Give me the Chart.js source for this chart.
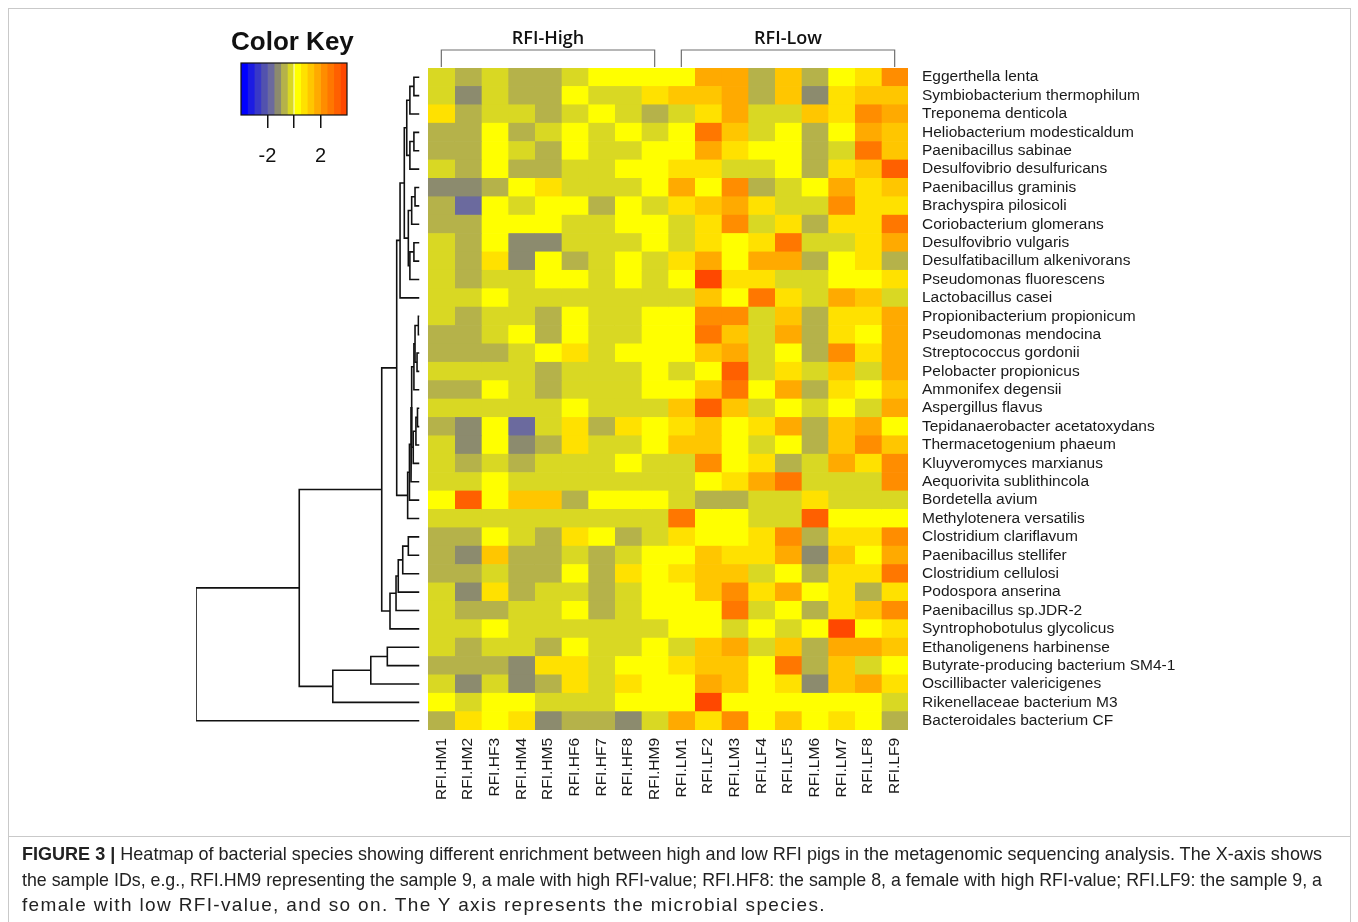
<!DOCTYPE html>
<html>
<head>
<meta charset="utf-8">
<title>Figure 3 heatmap</title>
<script src="https://cdn.jsdelivr.net/npm/chart.js@4.4.1/dist/chart.umd.min.js"></script>
<style>
  html, body { margin: 0; padding: 0; background: #fff; }
  body { width: 1358px; height: 922px; position: relative; overflow: hidden;
         font-family: "Liberation Sans", Arial, sans-serif; }
  canvas.layer { position: absolute; left: 0; top: 0; }
  #frame { position: absolute; left: 8px; top: 8px; width: 1343px; height: 829px;
           border: 1px solid #c9c9c9; box-sizing: border-box; }
  #capbox { position: absolute; left: 8px; top: 836px; width: 1343px; height: 100px;
            border: 1px solid #c9c9c9; box-sizing: border-box; }
  #keyTitle { position: absolute; left: 231px; top: 26px; line-height: 26px;
              font: bold 26px "Liberation Sans", Arial, sans-serif; color: #111; }
  #caption { position: absolute; left: 22px; top: 841px; font-size: 19px; line-height: 25.5px;
             color: #222; font-family: "Liberation Sans", Arial, sans-serif; }
  .ln { white-space: nowrap; transform-origin: 0 0; width: max-content; }
</style>
</head>
<body>
<div id="frame"></div>
<div id="capbox"></div>
<canvas id="dendro" class="layer" width="1358" height="922"></canvas>
<canvas id="heat" class="layer" width="1358" height="922"></canvas>
<canvas id="key" class="layer" width="1358" height="922"></canvas>
<div id="keyTitle">Color Key</div>
<div id="caption">
  <div class="ln" data-w="1300"><b>FIGURE 3 |</b> Heatmap of bacterial species showing different enrichment between high and low RFI pigs in the metagenomic sequencing analysis. The X-axis shows</div>
  <div class="ln" data-w="1300">the sample IDs, e.g., RFI.HM9 representing the sample 9, a male with high RFI-value; RFI.HF8: the sample 8, a female with high RFI-value; RFI.LF9: the sample 9, a</div>
  <div class="ln" data-w="804" data-track="1">female with low RFI-value, and so on. The Y axis represents the microbial species.</div>
</div>
<script>
// columns (samples) and rows (species), top to bottom
const samples = ['RFI.HM1', 'RFI.HM2', 'RFI.HF3', 'RFI.HM4', 'RFI.HM5', 'RFI.HF6', 'RFI.HF7', 'RFI.HF8', 'RFI.HM9',
                 'RFI.LM1', 'RFI.LF2', 'RFI.LM3', 'RFI.LF4', 'RFI.LF5', 'RFI.LM6', 'RFI.LM7', 'RFI.LF8', 'RFI.LF9'];

const species = [
  'Eggerthella lenta', 'Symbiobacterium thermophilum', 'Treponema denticola', 'Heliobacterium modesticaldum',
  'Paenibacillus sabinae', 'Desulfovibrio desulfuricans', 'Paenibacillus graminis', 'Brachyspira pilosicoli',
  'Coriobacterium glomerans', 'Desulfovibrio vulgaris', 'Desulfatibacillum alkenivorans', 'Pseudomonas fluorescens',
  'Lactobacillus casei', 'Propionibacterium propionicum', 'Pseudomonas mendocina', 'Streptococcus gordonii',
  'Pelobacter propionicus', 'Ammonifex degensii', 'Aspergillus flavus', 'Tepidanaerobacter acetatoxydans',
  'Thermacetogenium phaeum', 'Kluyveromyces marxianus', 'Aequorivita sublithincola', 'Bordetella avium',
  'Methylotenera versatilis', 'Clostridium clariflavum', 'Paenibacillus stellifer', 'Clostridium cellulosi',
  'Podospora anserina', 'Paenibacillus sp.JDR-2', 'Syntrophobotulus glycolicus', 'Ethanoligenens harbinense',
  'Butyrate-producing bacterium SM4-1', 'Oscillibacter valericigenes', 'Rikenellaceae bacterium M3', 'Bacteroidales bacterium CF'
];

// scaled abundance (row z-score), one row per species, columns in sample order
const values = [
  [-0.25,-0.75,-0.25,-0.75,-0.75,-0.25,0.25,0.25,0.25,0.25,1.75,1.75,-0.75,1.25,-0.75,0.25,0.75,2.25],
  [-0.25,-1.25,-0.25,-0.75,-0.75,0.25,-0.25,-0.25,0.75,1.25,1.25,1.75,-0.75,1.25,-1.25,0.75,1.25,1.25],
  [0.75,-0.75,-0.25,-0.25,-0.75,-0.25,0.25,-0.25,-0.75,-0.25,0.75,1.75,-0.25,-0.25,1.25,0.75,2.25,1.75],
  [-0.75,-0.75,0.25,-0.75,-0.25,0.25,-0.25,0.25,-0.25,0.25,2.75,1.25,-0.25,0.25,-0.75,0.25,1.75,1.25],
  [-0.75,-0.75,0.25,-0.25,-0.75,0.25,-0.25,-0.25,0.25,0.25,1.75,0.75,0.25,0.25,-0.75,-0.25,2.75,1.25],
  [-0.25,-0.75,0.25,-0.75,-0.75,-0.25,-0.25,0.25,0.25,0.75,0.75,-0.25,-0.25,0.25,-0.75,0.75,1.25,3.25],
  [-1.25,-1.25,-0.75,0.25,0.75,-0.25,-0.25,-0.25,0.25,1.75,0.25,2.25,-0.75,-0.25,0.25,1.75,0.75,1.25],
  [-0.75,-1.75,0.25,-0.25,0.25,0.25,-0.75,0.25,-0.25,0.75,1.25,1.75,0.75,-0.25,-0.25,2.25,0.75,0.75],
  [-0.75,-0.75,0.25,0.25,0.25,-0.25,-0.25,0.25,0.25,-0.25,0.75,2.25,-0.25,0.75,-0.75,0.75,0.75,2.75],
  [-0.25,-0.75,0.25,-1.25,-1.25,-0.25,-0.25,-0.25,0.25,-0.25,0.75,0.25,0.75,2.75,-0.25,-0.25,0.75,1.75],
  [-0.25,-0.75,0.75,-1.25,0.25,-0.75,-0.25,0.25,-0.25,0.75,1.75,0.25,1.75,1.75,-0.75,0.25,0.75,-0.75],
  [-0.25,-0.75,-0.25,-0.25,0.25,0.25,-0.25,0.25,-0.25,0.25,3.75,0.75,0.75,-0.25,-0.25,0.25,0.25,0.75],
  [-0.25,-0.25,0.25,-0.25,-0.25,-0.25,-0.25,-0.25,-0.25,-0.25,1.25,0.25,2.75,0.75,-0.25,1.75,1.25,-0.25],
  [-0.25,-0.75,-0.25,-0.25,-0.75,0.25,-0.25,-0.25,0.25,0.25,2.25,2.25,-0.25,1.25,-0.75,0.75,0.75,1.75],
  [-0.75,-0.75,-0.25,0.25,-0.75,0.25,-0.25,-0.25,0.25,0.25,2.75,1.25,-0.25,1.75,-0.75,0.75,0.25,1.75],
  [-0.75,-0.75,-0.75,-0.25,0.25,0.75,-0.25,0.25,0.25,0.25,1.25,1.75,-0.25,0.25,-0.75,2.25,0.75,1.75],
  [-0.25,-0.25,-0.25,-0.25,-0.75,-0.25,-0.25,-0.25,0.25,-0.25,0.25,3.25,-0.25,0.75,-0.25,1.25,-0.25,1.75],
  [-0.75,-0.75,0.25,-0.25,-0.75,-0.25,-0.25,-0.25,0.25,0.25,1.25,2.75,0.25,1.75,-0.75,0.75,0.25,1.25],
  [-0.25,-0.25,-0.25,-0.25,-0.25,0.25,-0.25,-0.25,-0.25,1.25,3.25,1.25,-0.25,0.25,-0.25,0.25,-0.25,1.75],
  [-0.75,-1.25,0.25,-1.75,-0.25,0.75,-0.75,0.75,0.25,0.75,1.25,0.25,0.75,1.75,-0.75,1.25,1.75,0.25],
  [-0.25,-1.25,0.25,-1.25,-0.75,0.75,-0.25,-0.25,0.25,1.25,1.25,0.25,-0.25,0.25,-0.75,1.25,2.25,1.25],
  [-0.25,-0.75,-0.25,-0.75,-0.25,-0.25,-0.25,0.25,-0.25,-0.25,2.25,0.25,0.75,-0.75,-0.25,1.75,0.75,2.25],
  [-0.25,-0.25,0.25,-0.25,-0.25,-0.25,-0.25,-0.25,-0.25,-0.25,0.25,0.75,1.75,2.75,-0.25,-0.25,-0.25,2.25],
  [0.25,3.25,0.25,1.25,1.25,-0.75,0.25,0.25,0.25,-0.25,-0.75,-0.75,-0.25,-0.25,0.75,-0.25,-0.25,-0.25],
  [-0.25,-0.25,-0.25,-0.25,-0.25,-0.25,-0.25,-0.25,-0.25,2.75,0.25,0.25,-0.25,-0.25,3.25,0.25,0.25,0.25],
  [-0.75,-0.75,0.25,-0.25,-0.75,0.75,0.25,-0.75,-0.25,0.75,0.25,0.25,0.75,2.25,-0.75,0.75,0.75,2.25],
  [-0.75,-1.25,1.25,-0.75,-0.75,-0.25,-0.75,-0.25,0.25,0.25,1.25,0.75,0.75,1.75,-1.25,1.25,0.25,1.75],
  [-0.75,-0.75,-0.25,-0.75,-0.75,0.25,-0.75,0.75,0.25,0.75,1.25,1.25,-0.25,0.25,-0.75,0.75,0.75,2.75],
  [-0.25,-1.25,0.75,-0.75,-0.25,-0.25,-0.75,-0.25,0.25,0.25,1.25,2.25,0.75,1.75,0.25,0.75,-0.75,0.75],
  [-0.25,-0.75,-0.75,-0.25,-0.25,0.25,-0.75,-0.25,0.25,0.25,0.25,2.75,-0.25,0.25,-0.75,0.75,1.25,2.25],
  [-0.25,-0.25,0.25,-0.25,-0.25,-0.25,-0.25,-0.25,-0.25,0.25,0.25,-0.25,0.25,-0.25,0.25,3.75,0.25,0.75],
  [-0.25,-0.75,-0.25,-0.25,-0.75,0.25,-0.25,-0.25,0.25,-0.25,1.25,1.75,-0.25,1.25,-0.75,1.75,1.75,1.25],
  [-0.75,-0.75,-0.75,-1.25,0.75,0.75,-0.25,0.25,0.25,0.75,1.25,1.25,0.25,2.75,-0.75,1.25,-0.25,0.25],
  [-0.25,-1.25,-0.25,-1.25,-0.75,0.75,-0.25,0.75,0.25,0.25,1.75,1.25,0.25,0.75,-1.25,1.25,1.75,0.75],
  [0.25,-0.25,0.25,0.25,-0.25,-0.25,-0.25,0.25,0.25,0.25,3.75,0.25,0.25,0.25,0.25,0.25,0.25,-0.25],
  [-0.75,0.75,0.25,0.75,-1.25,-0.75,-0.75,-1.25,-0.25,1.75,0.75,2.25,0.25,1.25,0.25,0.75,0.25,-0.75]
];

// colour key: 16 bins from -4 to 4
const keyBreaks = [-4, -3.5, -3, -2.5, -2, -1.5, -1, -0.5, 0, 0.5, 1, 1.5, 2, 2.5, 3, 3.5, 4];
const keyColors = ['#0000ff', '#1c1ce3', '#3838c8', '#5252ae', '#6b6a9e', '#8c8b6e', '#b5b24a', '#d9d823',
                   '#ffff00', '#ffe100', '#ffc600', '#ffaa00', '#ff8d00', '#ff7700', '#ff6000', '#ff4800'];
const keyTicks = [-2, 0, 2];

// sample groups shown with brackets over the columns
const groups = [
  { label: 'RFI-High', from: 0, to: 8 },
  { label: 'RFI-Low', from: 9, to: 17 }
];

// row dendrogram: [left, right, height]; numbers are rows, 'mK' is merge K
const merges = [
  [0, 1, 0.25], ['m0', 2, 0.43], [3, 4, 0.25], ['m2', 5, 0.43], ['m1', 'm3', 0.57],
  [6, 7, 0.20], ['m5', 8, 0.35], [9, 10, 0.25], ['m7', 11, 0.43], ['m6', 'm8', 0.50],
  ['m4', 'm9', 0.68], ['m10', 12, 0.87],
  [13, 14, 0.05], [15, 16, 0.11], ['m12', 'm13', 0.20], ['m14', 17, 0.25],
  [18, 19, 0.09], ['m16', 20, 0.16], ['m17', 21, 0.28], ['m15', 'm18', 0.35],
  ['m19', 22, 0.38], ['m20', 23, 0.45], ['m21', 24, 0.53], ['m11', 'm22', 1.02],
  [25, 26, 0.50], ['m24', 27, 0.75], ['m25', 28, 0.95], ['m26', 29, 1.05], ['m27', 30, 1.32],
  ['m23', 'm28', 1.69],
  [31, 32, 1.44], ['m30', 33, 2.18], ['m31', 34, 3.88],
  ['m29', 'm32', 5.38], ['m33', 35, 10.0]
];

Chart.defaults.font.family = '"Liberation Sans", Arial, sans-serif';
Chart.defaults.color = '#1a1a1a';

function colorOf(v) {
  for (let i = 0; i < keyColors.length; i++) {
    if (v < keyBreaks[i + 1]) return keyColors[i];
  }
  return keyColors[keyColors.length - 1];
}

// ---- heatmap ----
const heatSets = samples.map((s, j) => ({
  label: s,
  data: species.map(() => [j, j + 1]),
  backgroundColor: species.map((sp, i) => colorOf(values[i][j])),
  borderWidth: 0,
  grouped: false,
  barPercentage: 1,
  categoryPercentage: 1
}));

const groupBrackets = {
  id: 'groupBrackets',
  afterDraw(chart) {
    const ctx = chart.ctx;
    const x = chart.scales.x;
    const top = chart.chartArea.top;
    ctx.save();
    groups.forEach(g => {
      const x0 = x.getPixelForValue(g.from + 0.5);
      const x1 = x.getPixelForValue(g.to + 0.5);
      const yb = top - 18;
      ctx.strokeStyle = '#6f6f6f';
      ctx.lineWidth = 1.2;
      ctx.beginPath();
      ctx.moveTo(x0, top - 1);
      ctx.lineTo(x0, yb);
      ctx.lineTo(x1, yb);
      ctx.lineTo(x1, top - 1);
      ctx.stroke();
      ctx.fillStyle = '#111';
      ctx.font = '600 18px "Open Sans", sans-serif';
      ctx.textAlign = 'center';
      ctx.textBaseline = 'alphabetic';
      ctx.fillText(g.label, (x0 + x1) / 2, yb - 6);
    });
    ctx.restore();
  }
};

new Chart(document.getElementById('heat'), {
  type: 'bar',
  data: { labels: species, datasets: heatSets },
  options: {
    indexAxis: 'y',
    responsive: false,
    animation: false,
    layout: { padding: { left: 428, top: 68, right: 0, bottom: 92 } },
    plugins: { legend: { display: false }, tooltip: { enabled: false } },
    scales: {
      x: {
        type: 'linear', min: 0, max: 18, position: 'bottom',
        grid: { display: false, drawTicks: false },
        border: { display: false },
        afterBuildTicks: ax => { ax.ticks = samples.map((s, j) => ({ value: j + 0.5 })); },
        afterFit: ax => { ax.height = 100; },
        ticks: {
          autoSkip: false, minRotation: 90, maxRotation: 90, padding: 8,
          font: { size: 15.5 }, color: '#1a1a1a',
          callback: (v, i) => samples[i]
        }
      },
      y: {
        type: 'category', position: 'right',
        grid: { display: false, drawTicks: false },
        border: { display: false },
        afterFit: ax => { ax.width = 450; },
        ticks: { autoSkip: false, padding: 14, font: { size: 15.5 }, color: '#1a1a1a' }
      }
    }
  },
  plugins: [groupBrackets]
});

// ---- dendrogram ----
const nodes = {};
const nodeOf = k => (typeof k === 'number' ? { h: 0, y: k + 0.5 } : nodes[k]);
const dendroSets = merges.map((m, i) => {
  const a = nodeOf(m[0]);
  const b = nodeOf(m[1]);
  const h = m[2];
  nodes['m' + i] = { h: h, y: (a.y + b.y) / 2 };
  return {
    data: [{ x: a.h, y: a.y }, { x: h, y: a.y }, { x: h, y: b.y }, { x: b.h, y: b.y }],
    showLine: true, pointRadius: 0, borderColor: '#111', borderWidth: 1.6, tension: 0
  };
});

new Chart(document.getElementById('dendro'), {
  type: 'scatter',
  data: { datasets: dendroSets },
  options: {
    responsive: false,
    animation: false,
    layout: { padding: { left: 196, right: 938.5, top: 68, bottom: 192 } },
    plugins: { legend: { display: false }, tooltip: { enabled: false } },
    scales: {
      x: { type: 'linear', reverse: true, min: 0, max: 10, display: false },
      y: { type: 'linear', reverse: true, min: 0, max: 36, display: false }
    }
  }
});

// ---- colour key ----
const keyFrame = {
  id: 'keyFrame',
  afterDatasetsDraw(chart) {
    const a = chart.chartArea;
    const ctx = chart.ctx;
    ctx.save();
    ctx.strokeStyle = '#111';
    ctx.lineWidth = 1.2;
    ctx.strokeRect(a.left, a.top, a.right - a.left, a.bottom - a.top);
    ctx.restore();
  }
};

new Chart(document.getElementById('key'), {
  type: 'bar',
  data: {
    labels: ['key'],
    datasets: keyColors.map((c, i) => ({
      data: [[keyBreaks[i], keyBreaks[i + 1]]],
      backgroundColor: c, borderWidth: 0, grouped: false,
      barPercentage: 1, categoryPercentage: 1
    }))
  },
  options: {
    indexAxis: 'y',
    responsive: false,
    animation: false,
    layout: { padding: { left: 241, right: 1011, top: 63, bottom: 747 } },
    plugins: { legend: { display: false }, tooltip: { enabled: false } },
    scales: {
      x: {
        type: 'linear', min: -4, max: 4,
        grid: { drawOnChartArea: false, drawTicks: true, tickLength: 13, color: '#111', lineWidth: 1.5 },
        border: { display: false },
        afterBuildTicks: ax => { ax.ticks = keyTicks.map(v => ({ value: v })); },
        afterFit: ax => { ax.height = 60; },
        ticks: { padding: 16, font: { size: 20 }, color: '#111',
                 callback: v => (v === 0 ? '' : String(v)) }
      },
      y: { display: false }
    }
  },
  plugins: [keyFrame]
});

// fit caption lines to the printed widths; the short last line is tracked out, not stretched
document.querySelectorAll('#caption .ln').forEach(el => {
  const target = Number(el.dataset.w);
  let w = el.getBoundingClientRect().width;
  if (el.dataset.track) {
    el.style.letterSpacing = ((target - w) / el.textContent.length).toFixed(2) + 'px';
    w = el.getBoundingClientRect().width;
  }
  el.style.transform = 'scaleX(' + (target / w) + ')';
});
</script>
</body>
</html>
